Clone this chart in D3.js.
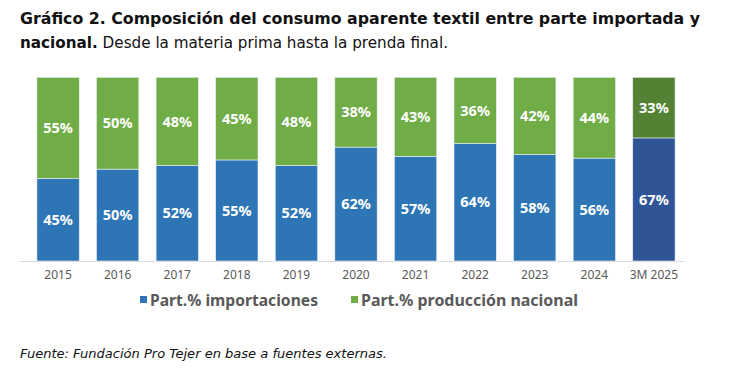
<!DOCTYPE html>
<html><head><meta charset="utf-8">
<script src="https://cdn.jsdelivr.net/npm/d3@7/dist/d3.min.js"></script>
<style>body{margin:0;background:#fff}svg{display:block}</style>
</head><body>
<svg id="c" width="730" height="376"></svg>
<script>
const categories = ["2015","2016","2017","2018","2019","2020","2021","2022","2023","2024","3M 2025"];
const importaciones = [45,50,52,55,52,62,57,64,58,56,67];
const nacional = [55,50,48,45,48,38,43,36,42,44,33];
const seriesNames = ["Part.% importaciones","Part.% producción nacional"];

const svg = d3.select("#c");
const x = d3.scaleBand().domain(categories).range([28,684]).paddingInner(0.29).paddingOuter(0.15);
const y = d3.scaleLinear().domain([0,100]).range([261,77.3]);

const blue="#2E75B6", green="#70AD47", blueD="#2F5597", greenD="#548235";
const last = categories[categories.length-1];
const tf = "'DejaVu Sans Condensed','DejaVu Sans',sans-serif";

// title
svg.append("text").attr("x",20).attr("y",23.5)
  .attr("font-family",tf).attr("font-weight","bold")
  .attr("font-size",16.5).attr("fill","#111")
  .attr("textLength",680).attr("lengthAdjust","spacingAndGlyphs")
  .text("Gráfico 2. Composición del consumo aparente textil entre parte importada y");
const t2 = svg.append("text").attr("x",20).attr("y",48)
  .attr("font-family",tf).attr("font-size",16.5).attr("fill","#111")
  .attr("textLength",428).attr("lengthAdjust","spacingAndGlyphs");
t2.append("tspan").attr("font-weight","bold").text("nacional.");
t2.append("tspan").attr("font-weight","normal").text(" Desde la materia prima hasta la prenda final.");

// axis line
svg.append("line").attr("x1",20).attr("x2",684).attr("y1",261.5).attr("y2",261.5)
  .attr("stroke","#d9d9d9").attr("stroke-width",1);

const data = categories.map((c,i)=>({c, imp:importaciones[i], nac:nacional[i]}));
const g = svg.append("g");
g.selectAll(".imp").data(data).join("rect")
  .attr("x",d=>x(d.c)).attr("width",x.bandwidth())
  .attr("y",d=>y(d.imp)).attr("height",d=>y(0)-y(d.imp))
  .attr("fill",d=>d.c===last?blueD:blue).attr("stroke","#e8eef5").attr("stroke-width",0.6);
g.selectAll(".nac").data(data).join("rect")
  .attr("x",d=>x(d.c)).attr("width",x.bandwidth())
  .attr("y",d=>y(d.imp+d.nac)).attr("height",d=>y(d.imp)-y(d.imp+d.nac))
  .attr("fill",d=>d.c===last?greenD:green).attr("stroke","#e8eef5").attr("stroke-width",0.6);

const lf = "'Noto Sans','Open Sans',sans-serif";
g.selectAll(".li").data(data).join("text")
  .attr("x",d=>x(d.c)+x.bandwidth()/2).attr("y",d=>(y(0)+y(d.imp))/2)
  .attr("dy","0.36em").attr("text-anchor","middle").attr("fill","#fff")
  .attr("font-family",lf).attr("font-weight","bold").attr("font-size",14.5)
  .text(d=>d.imp+"%");
g.selectAll(".ln").data(data).join("text")
  .attr("x",d=>x(d.c)+x.bandwidth()/2).attr("y",d=>(y(d.imp)+y(d.imp+d.nac))/2)
  .attr("dy","0.36em").attr("text-anchor","middle").attr("fill","#fff")
  .attr("font-family",lf).attr("font-weight","bold").attr("font-size",14.5)
  .text(d=>d.nac+"%");

// x axis labels
const xa = svg.append("g").attr("transform","translate(0,261)")
  .call(d3.axisBottom(x).tickSize(0).tickPadding(9));
xa.select(".domain").remove();
xa.selectAll("text").attr("fill","#595959").attr("font-size",12).attr("font-family",lf);

// legend
const leg = svg.append("g").attr("font-family",lf).attr("font-weight","bold").attr("font-size",15.5).attr("fill","#595959");
const lx=[140,351], lw=[168,217], cols=[blue,green];
seriesNames.forEach((n,i)=>{
  leg.append("rect").attr("x",lx[i]).attr("y",296).attr("width",7).attr("height",7).attr("fill",cols[i]);
  leg.append("text").attr("x",lx[i]+10).attr("y",305.5)
    .attr("textLength",lw[i]).attr("lengthAdjust","spacingAndGlyphs").text(n);
});

// source
svg.append("text").attr("x",20).attr("y",358)
  .attr("font-family",tf).attr("font-style","italic")
  .attr("font-size",12.5).attr("fill","#111")
  .attr("textLength",367).attr("lengthAdjust","spacingAndGlyphs")
  .text("Fuente: Fundación Pro Tejer en base a fuentes externas.");
</script>
</body></html>
